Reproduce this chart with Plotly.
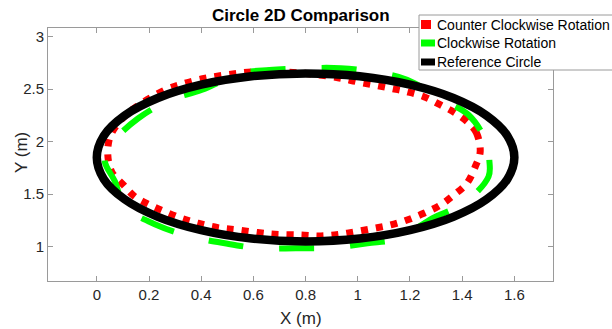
import plotly.graph_objects as go

# ---- data ----
ccw_x = [1.469, 1.455, 1.425, 1.374, 1.317, 1.253, 1.188, 1.126, 1.062, 0.997, 0.929, 0.821,
         0.719, 0.592, 0.490, 0.401, 0.324, 0.261, 0.134, 0.082, 0.051, 0.042, 0.057, 0.102,
         0.146, 0.203, 0.261, 0.324, 0.388, 0.464, 0.540, 0.668, 0.782, 0.859, 0.929, 0.992,
         1.062, 1.126, 1.189, 1.253, 1.317, 1.368, 1.418, 1.450, 1.469]
ccw_y = [1.905, 2.083, 2.178, 2.273, 2.350, 2.429, 2.476, 2.509, 2.540, 2.571, 2.607, 2.645,
         2.664, 2.664, 2.635, 2.597, 2.547, 2.492, 2.302, 2.175, 2.048, 1.883, 1.714, 1.588,
         1.476, 1.397, 1.333, 1.270, 1.223, 1.181, 1.159, 1.121, 1.111, 1.102, 1.118, 1.143,
         1.175, 1.207, 1.254, 1.318, 1.397, 1.492, 1.604, 1.762, 1.905]

cw_x = [1.495, 1.504, 1.501, 1.406, 1.285, 1.158, 1.037, 0.897, 0.763, 0.623, 0.490, 0.363,
        0.229, 0.108, 0.070, 0.030, 0.063, 0.159, 0.280, 0.401, 0.553, 0.661, 0.802, 0.935,
        1.062, 1.189, 1.323, 1.425, 1.495]
cw_y = [1.985, 1.826, 1.667, 1.413, 1.270, 1.080, 1.032, 0.990, 0.985, 0.985, 1.032, 1.095,
        1.207, 1.381, 1.619, 1.826, 2.000, 2.223, 2.397, 2.492, 2.651, 2.683, 2.700, 2.700,
        2.665, 2.590, 2.400, 2.254, 1.985]

ref_x = [1.600, 1.573, 1.493, 1.366, 1.200, 1.007, 0.800, 0.593, 0.400, 0.234, 0.107, 0.027,
         0.000, 0.027, 0.107, 0.234, 0.400, 0.593, 0.800, 1.007, 1.200, 1.366, 1.493, 1.573, 1.600]
ref_y = [1.850, 2.057, 2.250, 2.416, 2.543, 2.623, 2.650, 2.623, 2.543, 2.416, 2.250, 2.057,
         1.850, 1.643, 1.450, 1.284, 1.157, 1.077, 1.050, 1.077, 1.157, 1.284, 1.450, 1.643, 1.850]

x_ticks = [0, 0.2, 0.4, 0.6, 0.8, 1.0, 1.2, 1.4, 1.6]
x_tick_labels = ["0", "0.2", "0.4", "0.6", "0.8", "1", "1.2", "1.4", "1.6"]
y_ticks = [1, 1.5, 2, 2.5, 3]
y_tick_labels = ["1", "1.5", "2", "2.5", "3"]

series_names = ["Counter Clockwise Rotation", "Clockwise Rotation", "Reference Circle"]
series_colors = ["#ff0000", "#00ff00", "#000000"]

# ---- layout geometry (pixels) ----
W, H = 612, 329
L, R, T, B = 48, 553, 28, 281
FONT = "Liberation Sans, Arial, sans-serif"
AXC = "#9a9a9a"
TXC = "#262626"


def px(x):
    return (x - L) / (R - L)


def py(y):
    return (B - y) / (B - T)


fig = go.Figure()
fig.add_trace(go.Scatter(x=ccw_x, y=ccw_y, mode="lines", name=series_names[0],
                         line=dict(color=series_colors[0], width=7, dash="7px,8px", shape="spline"),
                         showlegend=False))
fig.add_trace(go.Scatter(x=cw_x, y=cw_y, mode="lines", name=series_names[1],
                         line=dict(color=series_colors[1], width=6, dash="35px,36px", shape="spline"),
                         showlegend=False))
fig.add_trace(go.Scatter(x=ref_x, y=ref_y, mode="lines", name=series_names[2],
                         line=dict(color=series_colors[2], width=8.5, shape="spline"),
                         showlegend=False))

axis_common = dict(showgrid=False, zeroline=False, showline=True, linecolor=AXC, linewidth=1,
                   mirror="ticks", ticks="inside", ticklen=5, tickcolor=AXC,
                   tickfont=dict(family=FONT, size=15, color=TXC))

shapes = []
annotations = []
# legend box
shapes.append(dict(type="rect", xref="paper", yref="paper",
                   x0=px(419), x1=px(640), y0=py(70), y1=py(15),
                   line=dict(color=AXC, width=1), fillcolor="white", layer="above"))
rows = [24.5, 43, 62]
sw = [(421, 431, 9), (421, 435, 7), (421, 435, 7)]
for i, name in enumerate(series_names):
    x0, x1, h = sw[i]
    shapes.append(dict(type="rect", xref="paper", yref="paper",
                       x0=px(x0), x1=px(x1), y0=py(rows[i] + h / 2), y1=py(rows[i] - h / 2),
                       line=dict(width=0), fillcolor=series_colors[i], layer="above"))
    annotations.append(dict(text=name, xref="paper", yref="paper", x=px(435), y=py(rows[i]),
                            xanchor="left", yanchor="middle", showarrow=False,
                            font=dict(family=FONT, size=14, color="#000000")))

annotations.append(dict(text="<b>Circle 2D Comparison</b>", xref="paper", yref="paper",
                        x=px(300.5), y=py(15), xanchor="center", yanchor="middle", showarrow=False,
                        font=dict(family=FONT, size=17, color="#000000")))
annotations.append(dict(text="X (m)", xref="paper", yref="paper",
                        x=px(300.5), y=py(318), xanchor="center", yanchor="middle", showarrow=False,
                        font=dict(family=FONT, size=17, color=TXC)))
annotations.append(dict(text="Y (m)", xref="paper", yref="paper", textangle=-90,
                        x=px(21), y=py(153), xanchor="center", yanchor="middle", showarrow=False,
                        font=dict(family=FONT, size=17, color=TXC)))

fig.update_layout(
    width=W, height=H,
    margin=dict(l=L, r=W - R, t=T, b=H - B, pad=0),
    paper_bgcolor="white", plot_bgcolor="white",
    xaxis=dict(range=[-0.187, 1.748], tickvals=x_ticks, ticktext=x_tick_labels, **axis_common),
    yaxis=dict(range=[0.673, 3.083], tickvals=y_ticks, ticktext=y_tick_labels, **axis_common),
    shapes=shapes, annotations=annotations, showlegend=False,
)

fig.write_html("out.html")
